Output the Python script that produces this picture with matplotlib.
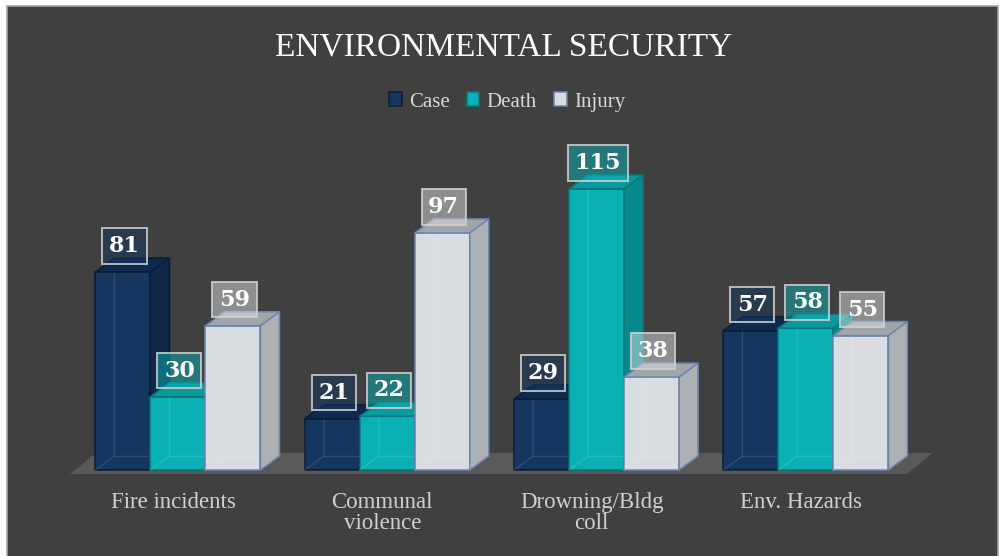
import numpy as np
import matplotlib
matplotlib.use('Agg')
import matplotlib.pyplot as plt
from matplotlib.patches import Polygon, Rectangle
from matplotlib.colors import to_rgba

# data
categories = ['Fire incidents', 'Communal\nviolence', 'Drowning/Bldg\ncoll', 'Env. Hazards']
series = ['Case', 'Death', 'Injury']
case = [81, 21, 29, 57]
death = [30, 22, 115, 58]
injury = [59, 97, 38, 55]

# colours per series: front, top, side, edge
front = ['#14365f', '#0ab1b4', '#d9dce1']
top = ['#0f2a4c', '#0a9a9d', '#a2a5a9']
side = ['#10294a', '#088a8d', '#aeb1b4']
edge = ['#0b1d36', '#07777a', '#6a86ad']

W, H = 1003, 556
PX_X, PX_Y = 209.3, 2.444      # pixels per category / per unit
X0, Y0 = 178, 470              # pixel of category 0 and of value 0
DX, DY = 19 / PX_X, 14 / PX_Y  # 3d depth
BW = 55 / PX_X

fig = plt.figure(figsize=(W / 100, H / 100), dpi=100, facecolor='white')
ax = fig.add_axes([0, 0, 1, 1])
ax.set_xlim(-X0 / PX_X, (W - X0) / PX_X)
ax.set_ylim(-(H - Y0) / PX_Y, Y0 / PX_Y)
ax.axis('off')

# chart area
ax.add_patch(Rectangle((7.5 / W, -0.02), (998.5 - 7.5) / W, 1.02 - 5.5 / H, transform=ax.transAxes,
                       fc='#404040', ec='#a6a6a6', lw=1.2, zorder=0))

# floor
fx0, fx1 = (70 - X0) / PX_X, (907 - X0) / PX_X
fy0 = -4 / PX_Y
fdx, fdy = 26 / PX_X, 21 / PX_Y
ax.add_patch(Polygon([(fx0, fy0), (fx1, fy0), (fx1 + fdx, fy0 + fdy), (fx0 + fdx, fy0 + fdy)],
                     closed=True, fc='#595959', ec='none', zorder=1))

idx = np.arange(len(categories))
handles = []
for j, vals in enumerate([case, death, injury]):
    z = 3 + 4 * j
    xs = idx + (j - 1) * BW
    b = ax.bar(xs, vals, BW, color=front[j], edgecolor=edge[j], lw=1.1, zorder=z, label=series[j])
    handles.append(b)
    for xc, v in zip(xs, vals):
        x0, x1 = xc - BW / 2, xc + BW / 2
        # faint back edges seen through the front face
        ax.plot([x0, x0 + DX, x0 + DX], [0, DY, v + DY], color='white', alpha=0.12, lw=1, zorder=z + 1)
        ax.plot([x0 + DX, x1], [DY, DY], color='white', alpha=0.12, lw=1, zorder=z + 1)
        ax.add_patch(Polygon([(x0, v), (x1, v), (x1 + DX, v + DY), (x0 + DX, v + DY)], closed=True,
                             fc=top[j], ec=edge[j], lw=1.1, zorder=z + 2))
        ax.add_patch(Polygon([(x1, 0), (x1 + DX, DY), (x1 + DX, v + DY), (x1, v)], closed=True,
                             fc=side[j], ec=edge[j], lw=1.1, zorder=z + 2))

# data labels
for j, vals in enumerate([case, death, injury]):
    xs = idx + (j - 1) * BW
    for xc, v in zip(xs, vals):
        ax.annotate(str(v), xy=(xc, v), xytext=(1, 26 * 0.72), textcoords='offset points',
                    ha='center', va='center', fontsize=16, fontweight='bold', family='DejaVu Serif',
                    color='white', zorder=30,
                    bbox=dict(boxstyle='square,pad=0.3', fc=to_rgba(front[j], 0.5),
                              ec=to_rgba('#d0d0d0', 0.85), lw=1.4))

# category labels
for i, cat in enumerate(categories):
    ax.annotate(cat, xy=(i, 0), xytext=(-5 * 0.72, -22 * 0.72), textcoords='offset points',
                ha='center', va='top', fontsize=16.5, color='#d0d0d0', family='Liberation Serif',
                linespacing=1.0, multialignment='center')

fig.text(504 / W, 1 - 47 / H, 'ENVIRONMENTAL SECURITY', ha='center', va='center', fontsize=24,
         color='white', family='Liberation Serif')
fig.legend(handles, series, loc='center', bbox_to_anchor=(507 / W, 1 - 102 / H), ncol=3, frameon=False,
           prop={'family': 'Liberation Serif', 'size': 15}, labelcolor='#d9d9d9',
           handlelength=0.62, handleheight=0.62, handletextpad=0.35, columnspacing=0.8)

fig.savefig('out.png', dpi=100, facecolor='white')
